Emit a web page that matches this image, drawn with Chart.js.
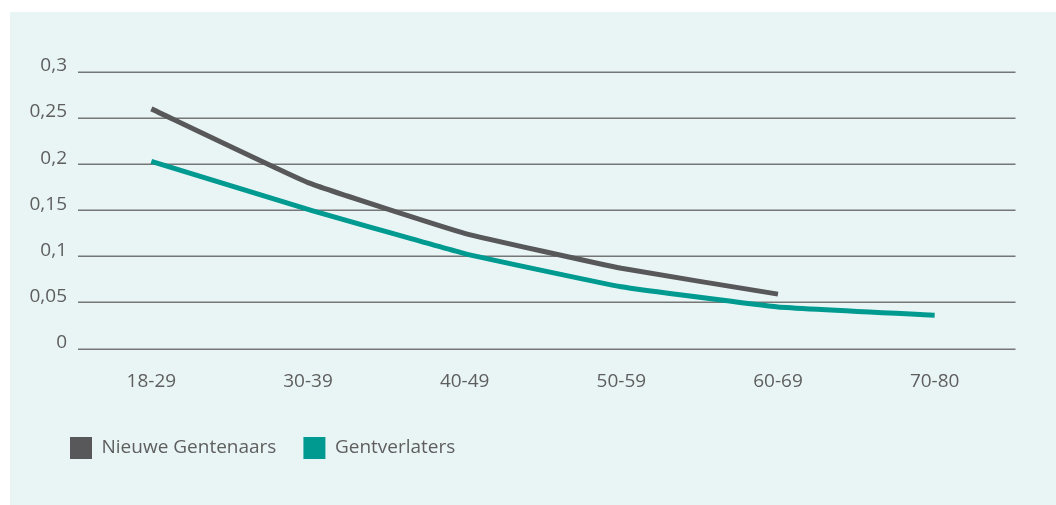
<!DOCTYPE html>
<html>
<head>
<meta charset="utf-8">
<script src="https://cdn.jsdelivr.net/npm/chart.js@4.4.1/dist/chart.umd.min.js"></script>
<style>
  html, body { margin: 0; padding: 0; background: #ffffff; }
  #wrap { position: relative; width: 1056px; height: 505px; }
  #panel { position: absolute; left: 10px; top: 12px; right: 0; bottom: 0; background: #e9f5f5; }
  canvas { position: absolute; left: 0; top: 0; }
</style>
</head>
<body>
<div id="wrap">
  <div id="panel"></div>
  <canvas id="chart" width="1056" height="505"></canvas>
</div>
<script>
// Age groups on the horizontal axis
const categories = ['18-29', '30-39', '40-49', '50-59', '60-69', '70-80'];

// Share per age group
const nieuweGentenaars = [0.26, 0.18, 0.125, 0.087, 0.059, null];
const gentverlaters = [0.203, 0.151, 0.103, 0.067, 0.045, 0.036];

// Vertical axis labels (Dutch decimal comma)
const yTickLabels = ['0', '0,05', '0,1', '0,15', '0,2', '0,25', '0,3'];

const textColor = '#5e5e5e';
const font = { family: '"Open Sans", sans-serif', size: 19 };

// Horizontal guide lines, drawn a little wider than the plotting area
const guideLines = {
  id: 'guideLines',
  beforeDatasetsDraw(chart) {
    const { ctx, chartArea, scales } = chart;
    ctx.save();
    ctx.strokeStyle = '#767676';
    ctx.lineWidth = 1.5;
    scales.y.ticks.forEach(t => {
      const y = Math.round(scales.y.getPixelForValue(t.value)) + 0.25;
      ctx.beginPath();
      ctx.moveTo(chartArea.left + 5, y);
      ctx.lineTo(chartArea.right + 2.5, y);
      ctx.stroke();
    });
    ctx.restore();
  }
};

// Indent the legend row so it lines up under the plot
const legendIndent = {
  id: 'legendIndent',
  afterLayout(chart) {
    if (chart.legend) {
      chart.legend.left += 23;
      chart.legend.right += 23;
    }
  }
};

new Chart(document.getElementById('chart'), {
  type: 'line',
  data: {
    labels: categories,
    datasets: [
      {
        label: 'Nieuwe Gentenaars',
        data: nieuweGentenaars,
        borderColor: '#58585a',
        backgroundColor: '#58585a',
        borderWidth: 5,
        tension: 0.1,
        pointRadius: 0,
        borderJoinStyle: 'round'
      },
      {
        label: 'Gentverlaters',
        data: gentverlaters,
        borderColor: '#009a90',
        backgroundColor: '#009a90',
        borderWidth: 5,
        tension: 0.1,
        pointRadius: 0,
        borderJoinStyle: 'round'
      }
    ]
  },
  options: {
    responsive: false,
    animation: false,
    devicePixelRatio: 1,
    layout: { padding: { left: 20, right: 43, top: 72, bottom: 36 } },
    plugins: {
      tooltip: { enabled: false },
      legend: {
        position: 'bottom',
        align: 'start',
        labels: {
          color: textColor,
          font: font,
          boxWidth: 22,
          boxHeight: 22,
          padding: 27,
          generateLabels(chart) {
            return Chart.defaults.plugins.legend.labels.generateLabels(chart)
              .map(item => Object.assign(item, { lineWidth: 0 }));
          }
        }
      }
    },
    scales: {
      x: {
        offset: true,
        grid: { display: false },
        border: { display: false },
        ticks: { color: textColor, font: font, padding: 14, maxRotation: 0 },
        afterFit(scale) { scale.height = 61.5; }
      },
      y: {
        min: 0,
        max: 0.3,
        grid: { display: false, drawTicks: false },
        border: { display: false },
        ticks: {
          stepSize: 0.05,
          color: textColor,
          font: font,
          padding: 6,
          labelOffset: -6,
          callback: (v, i) => yTickLabels[i]
        },
        afterFit(scale) { scale.width = 53; }
      }
    }
  },
  plugins: [guideLines, legendIndent]
});
</script>
</body>
</html>
